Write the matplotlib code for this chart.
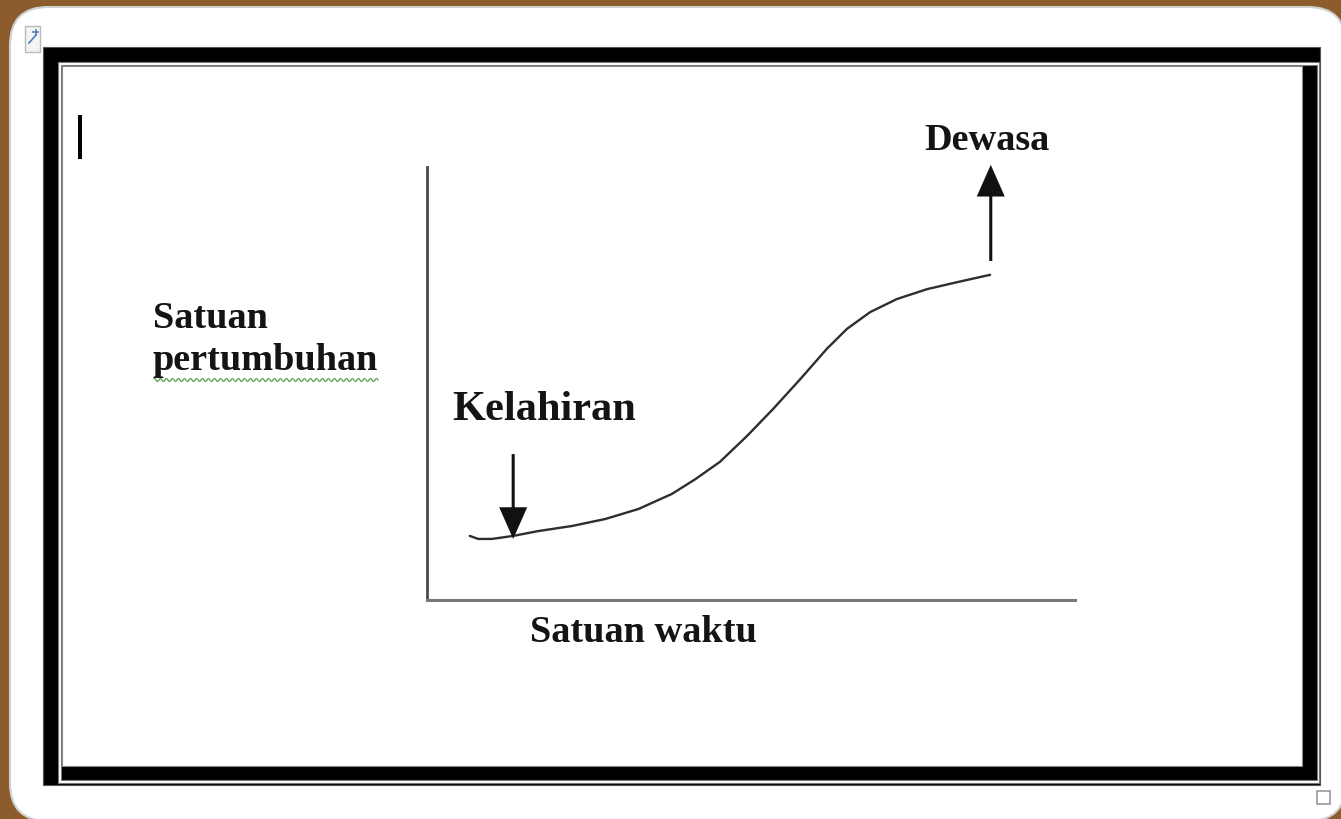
import numpy as np
import matplotlib
matplotlib.use('Agg')
import matplotlib.pyplot as plt
from matplotlib.patches import Rectangle, FancyBboxPatch

# kurva pertumbuhan (satuan waktu, satuan pertumbuhan)
waktu = [6.6, 7.9, 10.0, 13.3, 17.1, 22.4, 27.5, 32.6, 37.8, 41.4, 45.2,
         49.4, 53.4, 57.6, 61.7, 64.8, 68.4, 72.5, 77.2, 81.8, 86.9]
pertumbuhan = [14.8, 14.1, 14.1, 14.8, 15.9, 17.1, 18.7, 21.0, 24.5, 27.9, 31.9,
               37.9, 44.1, 51.0, 58.0, 62.6, 66.5, 69.5, 71.8, 73.4, 75.1]

# panah tahap: kelahiran dan dewasa
tahap = ['Kelahiran', 'Dewasa']
tahap_x = [13.3, 87.0]
panah_ekor = [33.7, 78.3]
panah_ujung = [14.1, 100.5]

W, H = 1341, 820
fig = plt.figure(figsize=(W / 100, H / 100), dpi=100)
fig.patch.set_facecolor('#8d5c2d')

# latar: halaman dalam koordinat piksel
bg = fig.add_axes([0, 0, 1, 1])
bg.set_xlim(0, W)
bg.set_ylim(H, 0)
bg.axis('off')

bg.add_patch(FancyBboxPatch((10, 8), 1336, 814, boxstyle='round,pad=0,rounding_size=38',
                            facecolor='white', edgecolor='#d0d0d0', lw=1.5))
# bingkai ganda
bg.add_patch(Rectangle((43, 48), 1277, 738, facecolor='black', edgecolor='#555', lw=0.8))
bg.add_patch(Rectangle((58, 63), 1261, 721, facecolor='white', edgecolor='#777', lw=0.8))
bg.add_patch(Rectangle((61, 66), 1256, 715, facecolor='black', edgecolor='#777', lw=0.8))
bg.add_patch(Rectangle((62, 67), 1240, 700, facecolor='white', edgecolor='#888', lw=0.8))
# ikon kecil dan kursor
bg.add_patch(Rectangle((25, 27), 15, 26, facecolor='#f4f4f4', edgecolor='#bbbbbb', lw=1))
bg.plot([29, 36], [44, 36], color='#5577bb', lw=1.2)
bg.plot([33.5, 38.5], [33, 33], color='#5577bb', lw=1.2)
bg.plot([36, 36], [30.5, 35.5], color='#5577bb', lw=1.2)
bg.add_patch(Rectangle((1317, 792), 13, 13, facecolor='white', edgecolor='#999999', lw=1.2))
bg.add_patch(Rectangle((78, 116), 4, 44, facecolor='black', edgecolor='none'))

font = dict(family='Liberation Serif', weight='bold', color='#141414')
bg.text(153, 328, 'Satuan', fontsize=27.5, va='baseline', ha='left', **font)
bg.text(153, 370, 'pertumbuhan', fontsize=27.5, va='baseline', ha='left', **font)
# garis bergelombang ejaan di bawah "pertumbuhan"
gx = np.linspace(154, 378, 300)
bg.plot(gx, 381 + 1.5 * np.sin(gx * 2 * np.pi / 6), color='#5c9e52', lw=0.9)
bg.text(530, 642, 'Satuan waktu', fontsize=27.5, va='baseline', ha='left', **font)
bg.text(452, 420, tahap[0], fontsize=30.5, va='baseline', ha='left', **font)
bg.text(987, 150, tahap[1], fontsize=27.5, va='baseline', ha='center', **font)

# grafik
ax = fig.add_axes([427 / W, (H - 601) / H, 648 / W, 433 / H])
ax.patch.set_alpha(0)
ax.set_xlim(0, 100)
ax.set_ylim(0, 100)
for s in ['top', 'right']:
    ax.spines[s].set_visible(False)
ax.spines['left'].set_color('#4a4a4a')
ax.spines['bottom'].set_color('#777777')
ax.spines['left'].set_linewidth(2)
ax.spines['bottom'].set_linewidth(2.2)
ax.set_xticks([])
ax.set_yticks([])

ax.plot(waktu, pertumbuhan, color='#2e2e2e', lw=1.7,
        solid_capstyle='round', solid_joinstyle='round')

for x, y0, y1 in zip(tahap_x, panah_ekor, panah_ujung):
    ax.annotate('', xy=(x, y1), xytext=(x, y0), annotation_clip=False,
                arrowprops=dict(arrowstyle='-|>,head_length=0.95,head_width=0.42',
                                mutation_scale=20, lw=2.2, color='#111111',
                                joinstyle='miter', capstyle='butt',
                                shrinkA=0, shrinkB=0))

fig.savefig('out.png', dpi=100, facecolor=fig.get_facecolor())
